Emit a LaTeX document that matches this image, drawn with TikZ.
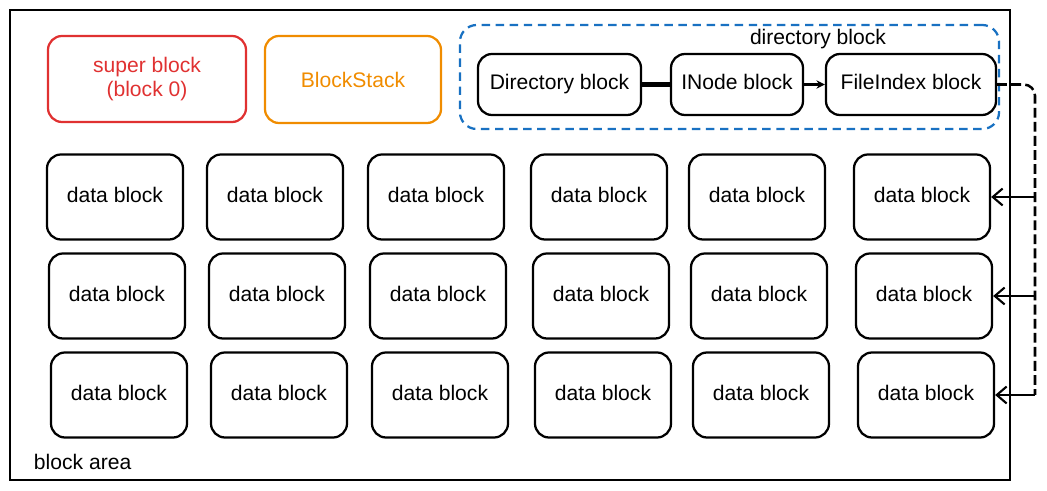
\documentclass[tikz,border=0pt]{standalone}
\usepackage{fontspec}
\setmainfont{Liberation Sans}
\usetikzlibrary{arrows.meta}
\definecolor{sbred}{HTML}{E03131}
\definecolor{bsorange}{HTML}{F08C00}
\definecolor{dirblue}{HTML}{1971C2}
\begin{document}
\begin{tikzpicture}[x=0.025cm,y=-0.025cm,
    blk/.style={draw,line width=1.6pt,rounded corners=10pt,align=center,
      inner sep=0pt,font=\fontsize{15}{17}\selectfont},
    datablk/.style={blk,minimum width=3.4cm,minimum height=2.125cm,
      text height=0.72em,text depth=0pt},
    dirblk/.style={blk,minimum height=1.525cm,text height=0.72em,text depth=0pt},
    conn/.style={line width=1.5pt},
    busline/.style={conn,line width=1.8pt,dash pattern=on 7pt off 3pt,rounded corners=8pt}]
  \useasboundingbox (0,0) rectangle (1047,491);
  % block area
  \draw[line width=1.6pt] (10,10) rectangle (1010,480);
  \node[anchor=west,font=\fontsize{15}{17}\selectfont] (area) at (29,462) {block area};
  % fixed blocks
  \node[blk,draw=sbred,text=sbred,minimum width=4.95cm,minimum height=2.15cm]
    (super) at (147,79) {super block\\(block 0)};
  \node[blk,draw=bsorange,text=bsorange,minimum width=4.4cm,minimum height=2.175cm]
    (stack) at (353,79.5) {BlockStack};
  % directory block group
  \node[draw=dirblue,line width=1.6pt,dash pattern=on 6pt off 4pt,rounded corners=12pt,
    minimum width=13.475cm,minimum height=2.6cm] (dirgrp) at (729.5,77) {};
  \node[font=\fontsize{15}{17}\selectfont] (dirlabel) at (818,39) {directory block};
  \node[dirblk,minimum width=4.075cm] (dirb) at (559.5,84.5) {Directory block};
  \node[dirblk,minimum width=3.3cm] (inode) at (737,84.5) {INode block};
  \node[dirblk,minimum width=4.25cm] (fidx) at (911,84.5) {FileIndex block};
  \draw[line width=3pt] (dirb) -- (inode);
  \draw[conn,-{Stealth[length=6pt,width=6pt]}] (inode) -- (fidx);
  % data blocks
  \foreach \c/\x in {1/115,2/275,3/436,4/599,5/757,6/922}
    \foreach \r/\y/\dx in {1/197/0,2/296/2,3/395/4}
      \node[datablk] (d\r\c) at (\x+\dx,\y) {data block};
  % file index links
  \coordinate (bus) at (1035,85);
  \draw[busline] (fidx.east) -- (fidx.east -| bus) -- (bus |- d36.east);
  \foreach \r in {1,2,3}
    \draw[conn,-{Straight Barb[length=7pt,width=12pt]}] (bus |- d\r6.east) -- (d\r6.east);
\end{tikzpicture}
\end{document}
